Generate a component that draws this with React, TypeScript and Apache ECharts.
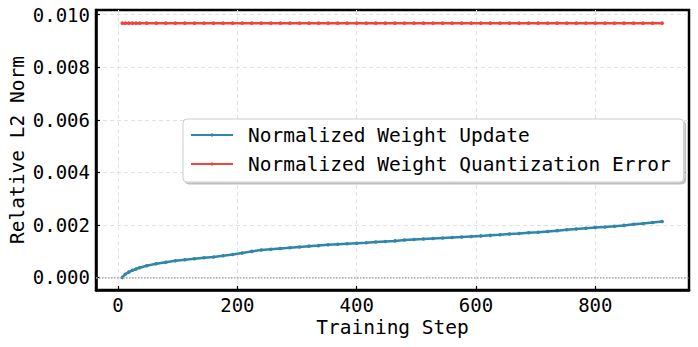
import React, { useEffect, useRef } from "react";
import * as echarts from "echarts";

const steps = [7, 12, 18, 24, 30, 36, 48, 64, 80, 96, 112, 128, 144, 160, 176, 192, 208, 224, 240, 256, 272, 288, 304, 320, 336, 352, 368, 384, 400, 416, 432, 448, 464, 480, 496, 512, 528, 544, 560, 576, 592, 608, 624, 640, 656, 672, 688, 704, 720, 736, 752, 768, 784, 800, 816, 832, 848, 864, 880, 896, 912];

const weightUpdate = [0.0, 0.00012, 0.0002, 0.00027, 0.00032, 0.00037, 0.00044, 0.00052, 0.00058, 0.00063, 0.00067, 0.00071, 0.00075, 0.00078, 0.00082, 0.00087, 0.00093, 0.00099, 0.00104, 0.00107, 0.0011, 0.00113, 0.00116, 0.00119, 0.00121, 0.00124, 0.00126, 0.00128, 0.0013, 0.00132, 0.00135, 0.00137, 0.00139, 0.00142, 0.00144, 0.00146, 0.00148, 0.0015, 0.00152, 0.00154, 0.00156, 0.00158, 0.0016, 0.00162, 0.00165, 0.00167, 0.0017, 0.00172, 0.00175, 0.00178, 0.00181, 0.00184, 0.00187, 0.0019, 0.00192, 0.00195, 0.00198, 0.00202, 0.00205, 0.00209, 0.00213];

const quantError = [0.00968, 0.00968, 0.00968, 0.00968, 0.00968, 0.00968, 0.00968, 0.00968, 0.00968, 0.00968, 0.00968, 0.00968, 0.00968, 0.00968, 0.00968, 0.00968, 0.00968, 0.00968, 0.00968, 0.00968, 0.00968, 0.00968, 0.00968, 0.00968, 0.00968, 0.00968, 0.00968, 0.00968, 0.00968, 0.00968, 0.00968, 0.00968, 0.00968, 0.00968, 0.00968, 0.00968, 0.00968, 0.00968, 0.00968, 0.00968, 0.00968, 0.00968, 0.00968, 0.00968, 0.00968, 0.00968, 0.00968, 0.00968, 0.00968, 0.00968, 0.00968, 0.00968, 0.00968, 0.00968, 0.00968, 0.00968, 0.00968, 0.00968, 0.00968, 0.00968, 0.00968];

const xTicks = [0, 200, 400, 600, 800];
const yTicks = [0, 0.002, 0.004, 0.006, 0.008, 0.01];
const seriesNames = ["Normalized Weight Update", "Normalized Weight Quantization Error"];
const colors = ["#2E86AB", "#F0433A"];

const FONT = "DejaVu Sans Mono";

export default function App() {
  const ref = useRef<HTMLDivElement>(null);
  useEffect(() => {
    if (!ref.current) return;
    const chart = echarts.init(ref.current, undefined, { renderer: "svg" });
    const mk = (vals: number[]) => steps.map((s, i) => [s, vals[i]]);
    chart.setOption({
      animation: false,
      textStyle: { fontFamily: FONT },
      grid: {
        left: 96,
        top: 10,
        right: 9,
        bottom: 57,
        outerBoundsMode: "none",
        containLabel: false,
        show: true,
        borderColor: "#000",
        borderWidth: 2.5,
        backgroundColor: "transparent",
      },
      legend: {
        orient: "vertical",
        left: 183,
        top: 119,
        data: seriesNames,
        itemWidth: 42,
        itemHeight: 4,
        itemGap: 9,
        padding: [6, 13, 8, 7],
        backgroundColor: "#fff",
        borderColor: "#cccccc",
        borderWidth: 1,
        borderRadius: 4,
        shadowColor: "rgba(0,0,0,0.25)",
        shadowOffsetX: 2,
        shadowOffsetY: 2,
        shadowBlur: 0,
        textStyle: {
          fontFamily: FONT,
          fontSize: 19.5,
          color: "#000",
          lineHeight: 20,
          padding: [0, 0, 0, 10],
        },
      },
      xAxis: {
        type: "value",
        min: -37,
        max: 957,
        name: "Training Step",
        nameLocation: "middle",
        nameGap: 27,
        nameMoveOverlap: false,
        nameTextStyle: { fontFamily: FONT, fontSize: 19.5, color: "#000" },
        axisLine: { show: true, onZero: false, lineStyle: { color: "#000", width: 2.5 } },
        axisTick: { show: true, inside: true, length: 4, customValues: xTicks, lineStyle: { color: "#000", width: 1.2 } },
        axisLabel: { customValues: xTicks, fontFamily: FONT, fontSize: 19, color: "#000", margin: 5 },
        splitLine: { show: true, lineStyle: { color: "#e2e2e2", type: [4, 3], width: 1 } },
      },
      yAxis: {
        type: "value",
        min: -0.00048,
        max: 0.01018,
        name: "Relative L2 Norm",
        nameLocation: "middle",
        nameGap: 69,
        nameMoveOverlap: false,
        nameTextStyle: { fontFamily: FONT, fontSize: 19.5, color: "#000" },
        axisLine: { show: true, onZero: false, lineStyle: { color: "#000", width: 2.5 } },
        axisTick: { show: true, inside: true, length: 4, customValues: yTicks, lineStyle: { color: "#000", width: 1.2 } },
        axisLabel: {
          customValues: yTicks,
          fontFamily: FONT,
          fontSize: 19,
          color: "#000",
          margin: 6,
          formatter: (v: number) => v.toFixed(3),
        },
        splitLine: { show: true, lineStyle: { color: "#e2e2e2", type: [4, 3], width: 1 } },
      },
      series: [
        {
          name: seriesNames[0],
          type: "line",
          data: mk(weightUpdate),
          color: colors[0],
          symbol: "circle",
          symbolSize: 3.5,
          showSymbol: true,
          lineStyle: { width: 2.5, color: colors[0] },
          itemStyle: { color: colors[0] },
          z: 3,
          markLine: {
            silent: true,
            symbol: "none",
            label: { show: false },
            lineStyle: { color: "#aaaaaa", type: "dotted", width: 1.5 },
            data: [{ yAxis: 0 }],
          },
        },
        {
          name: seriesNames[1],
          type: "line",
          data: mk(quantError),
          color: colors[1],
          symbol: "circle",
          symbolSize: 3.5,
          showSymbol: true,
          lineStyle: { width: 2.5, color: colors[1] },
          itemStyle: { color: colors[1] },
          z: 3,
        },
      ],
    });
    return () => chart.dispose();
  }, []);
  return <div ref={ref} style={{ width: 698, height: 347, position: "absolute", left: 0, top: 0 }} />;
}
